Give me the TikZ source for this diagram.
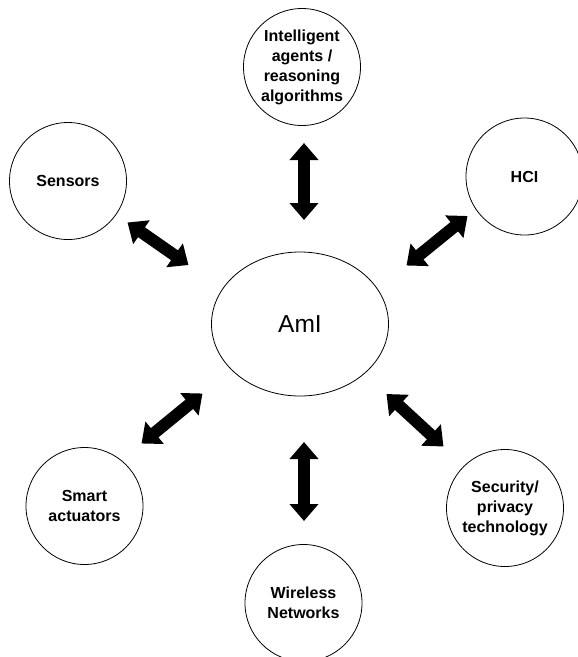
\documentclass[tikz,border=0pt]{standalone}
\usepackage{fontspec}
\setmainfont{Liberation Sans}
\usetikzlibrary{shapes.geometric,arrows.meta}
\begin{document}
\begin{tikzpicture}[x=1pt,y=-1pt,
  topic/.style={circle,draw,line width=0.8pt,minimum size=117pt,inner sep=0pt,
    align=center,font=\fontsize{16}{20}\selectfont\bfseries},
  hub/.style={ellipse,draw,line width=0.8pt,minimum width=177pt,minimum height=144pt,
    inner sep=0pt,font=\fontsize{24.5}{28}\selectfont},
  link/.style={line width=12pt,
    {Triangle[length=17pt,width=28pt]}-{Triangle[length=17pt,width=28pt]}}]
\useasboundingbox (0,0) rectangle (578,657);

% central concept
\node[hub] (ami) at (300,324) {AmI};

% surrounding technologies
\node[topic] (agents) at (302,67) {Intelligent\\agents /\\reasoning\\algorithms};
\node[topic] (sensors) at (68,181) {Sensors};
\node[topic] (hci) at (524.5,176.5) {HCI};
\node[topic] (actuators) at (84.5,506) {Smart\\actuators};
\node[topic] (wireless) at (303.5,603) {Wireless\\Networks};
\node[topic] (security) at (505,508) {Security/\\privacy\\technology};

% arrow end points between each topic and the hub
\coordinate (agentsA) at (304,143);   \coordinate (agentsB) at (304,220);
\coordinate (sensorsA) at (127.5,222.5); \coordinate (sensorsB) at (188.5,265);
\coordinate (hciA) at (467.5,216); \coordinate (hciB) at (406.5,265.5);
\coordinate (actA) at (202.5,393.5); \coordinate (actB) at (141.5,443.5);
\coordinate (wireA) at (304,442); \coordinate (wireB) at (304,521);
\coordinate (secA) at (386.5,394); \coordinate (secB) at (443.5,446.5);

\draw[link] (agentsA) -- (agentsB);
\draw[link] (sensorsA) -- (sensorsB);
\draw[link] (hciA) -- (hciB);
\draw[link] (actA) -- (actB);
\draw[link] (wireA) -- (wireB);
\draw[link] (secA) -- (secB);
\end{tikzpicture}
\end{document}
